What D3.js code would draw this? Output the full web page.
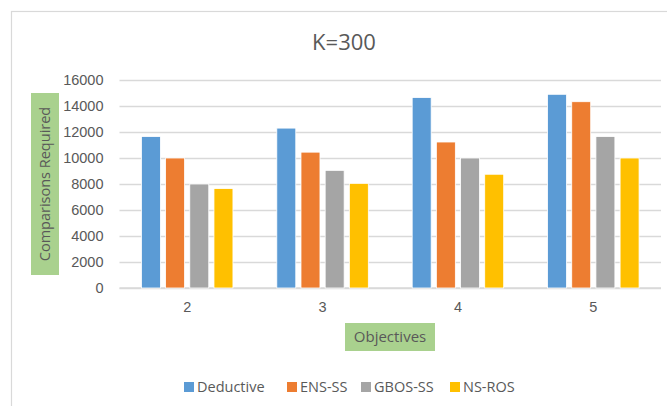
<!DOCTYPE html>
<html>
<head>
<meta charset="utf-8">
<script src="https://cdn.jsdelivr.net/npm/d3@7"></script>
<style>
  html, body { margin: 0; padding: 0; background: #fff; }
  svg { display: block; font-family: "Open Sans", "Noto Sans", sans-serif; }
</style>
</head>
<body>
<svg id="chart" width="667" height="406"></svg>
<script>
// Objectives on the x axis, one bar per method
const categories = ["2", "3", "4", "5"];
const seriesNames = ["Deductive", "ENS-SS", "GBOS-SS", "NS-ROS"];
const seriesColors = ["#5b9bd5", "#ed7d31", "#a5a5a5", "#ffc000"];
const deductive = [11650, 12300, 14650, 14900];
const ensSS = [10000, 10450, 11230, 14330];
const gbosSS = [8000, 9050, 10000, 11650];
const nsROS = [7650, 8050, 8750, 10000];
const yTicks = [0, 2000, 4000, 6000, 8000, 10000, 12000, 14000, 16000];

const seriesValues = [deductive, ensSS, gbosSS, nsROS];
const rows = categories.map((c, i) => ({
  cat: c,
  vals: seriesNames.map((s, j) => ({ name: s, value: seriesValues[j][i], color: seriesColors[j] }))
}));

const svg = d3.select("#chart");
const plot = { left: 119.5, right: 661, top: 80, bottom: 288 };

// Chart area frame
svg.append("rect")
  .attr("x", 11.5).attr("y", 11.5)
  .attr("width", 700).attr("height", 500)
  .attr("fill", "#fff").attr("stroke", "#d9d9d9").attr("stroke-width", 1.2);

const x0 = d3.scaleBand().domain(categories)
  .range([plot.left, plot.right])
  .paddingInner(0.324).paddingOuter(0.162);
const x1 = d3.scaleBand().domain(seriesNames)
  .range([0, x0.bandwidth()])
  .paddingInner(0.215).paddingOuter(0);
const y = d3.scaleLinear().domain([0, 16000]).range([plot.bottom, plot.top]);

// Horizontal gridlines and value labels
const yAxis = d3.axisLeft(y).tickValues(yTicks)
  .tickSize(-(plot.right - plot.left)).tickPadding(16)
  .tickFormat(d3.format("d"));
const yg = svg.append("g").attr("transform", `translate(${plot.left},0)`).call(yAxis);
yg.select(".domain").remove();
yg.selectAll(".tick line").attr("stroke", "#d9d9d9").attr("stroke-width", 1.3);
yg.selectAll(".tick text").attr("fill", "#595959").style("font-size", "14.5px");

// Category axis
const xAxis = d3.axisBottom(x0).tickSize(0).tickPadding(14);
const xg = svg.append("g").attr("transform", `translate(0,${plot.bottom})`).call(xAxis);
xg.select(".domain").attr("stroke", "#d9d9d9").attr("stroke-width", 1.3)
  .attr("d", `M${plot.left},0H${plot.right}`);
xg.selectAll(".tick text").attr("fill", "#595959").style("font-size", "14.5px");

// Bars
svg.append("g").selectAll("g").data(rows).join("g")
  .attr("transform", d => `translate(${x0(d.cat)},0)`)
  .selectAll("rect").data(d => d.vals).join("rect")
  .attr("x", d => x1(d.name))
  .attr("width", x1.bandwidth())
  .attr("y", d => y(d.value))
  .attr("height", d => y(0) - y(d.value))
  .attr("fill", d => d.color)
  .attr("stroke", "#fff").attr("stroke-width", 0.8);

// Title
svg.append("text").attr("x", 344).attr("y", 50)
  .attr("text-anchor", "middle").attr("fill", "#595959")
  .style("font-size", "22px").text("K=300");

// Y axis title on a green label
const yTitle = svg.append("g").attr("transform", "translate(45,184) rotate(-90)");
yTitle.append("rect").attr("x", -91).attr("y", -14).attr("width", 182).attr("height", 28)
  .attr("fill", "#a9d18e");
yTitle.append("text").attr("text-anchor", "middle").attr("dy", "0.35em")
  .attr("fill", "#595959").style("font-size", "14.5px").text("Comparisons Required");

// X axis title on a green label
const xTitle = svg.append("g").attr("transform", "translate(390,337)");
xTitle.append("rect").attr("x", -45).attr("y", -14).attr("width", 90).attr("height", 28)
  .attr("fill", "#a9d18e");
xTitle.append("text").attr("text-anchor", "middle").attr("dy", "0.35em")
  .attr("fill", "#595959").style("font-size", "15px").text("Objectives");

// Legend
const legendX = [184, 287, 361, 450];
const lg = svg.append("g").selectAll("g").data(seriesNames).join("g")
  .attr("transform", (d, i) => `translate(${legendX[i]},387)`);
lg.append("rect").attr("x", 0).attr("y", -5).attr("width", 10).attr("height", 10)
  .attr("fill", (d, i) => seriesColors[i]);
lg.append("text").attr("x", 13).attr("dy", "0.35em")
  .attr("fill", "#595959").style("font-size", "14.5px").text(d => d);
</script>
</body>
</html>
